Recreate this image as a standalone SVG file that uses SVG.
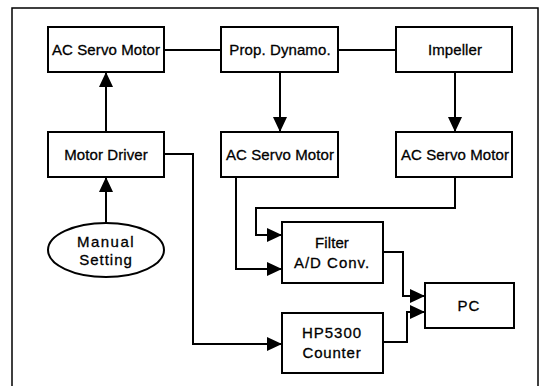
<svg xmlns="http://www.w3.org/2000/svg" width="541" height="386" viewBox="0 0 541 386">
<defs>
<style>
.box{fill:#fff;stroke:#000;stroke-width:2}
.ln{fill:none;stroke:#000;stroke-width:2}
.t{font-family:"Liberation Sans",Arial,sans-serif;font-size:15px;fill:#000;stroke:#000;stroke-width:0.3;text-anchor:middle;letter-spacing:0.1px}
</style>
<marker id="ah" markerWidth="16" markerHeight="16" refX="15" refY="8" orient="auto" markerUnits="userSpaceOnUse">
<path d="M0,1 L15,8 L0,15 Z" fill="#000"/>
</marker>
</defs>
<rect x="0" y="0" width="541" height="386" fill="#fff"/>
<rect x="12" y="8" width="526" height="390" fill="none" stroke="#000" stroke-width="1.5"/>

<g id="connectors">
<path class="ln" d="M164,50 H221"/>
<path class="ln" d="M338,50 H396"/>
<path class="ln" d="M106,132 V72" marker-end="url(#ah)"/>
<path class="ln" d="M106,223 V177" marker-end="url(#ah)"/>
<path class="ln" d="M280,72 V132" marker-end="url(#ah)"/>
<path class="ln" d="M455,72 V132" marker-end="url(#ah)"/>
<path class="ln" d="M164,154 H193 V344 H282" marker-end="url(#ah)"/>
<path class="ln" d="M236,177 V269 H282" marker-end="url(#ah)"/>
<path class="ln" d="M455,177 V208 H256 V235 H282" marker-end="url(#ah)"/>
<path class="ln" d="M383,252 H403 V296 H425" marker-end="url(#ah)"/>
<path class="ln" d="M383,342 H407 V312 H425" marker-end="url(#ah)"/>
</g>

<g id="servo1"><rect class="box" x="48" y="27" width="116" height="45"/><text class="t" x="106" y="55">AC Servo Motor</text></g>
<g id="dynamo"><rect class="box" x="221" y="27" width="117" height="45"/><text class="t" x="280" y="55">Prop. Dynamo.</text></g>
<g id="impeller"><rect class="box" x="396" y="27" width="116" height="45"/><text class="t" x="455" y="55">Impeller</text></g>
<g id="driver"><rect class="box" x="48" y="132" width="116" height="45"/><text class="t" x="106" y="160">Motor Driver</text></g>
<g id="servo2"><rect class="box" x="221" y="132" width="117" height="45"/><text class="t" x="280" y="160">AC Servo Motor</text></g>
<g id="servo3"><rect class="box" x="396" y="132" width="116" height="45"/><text class="t" x="455" y="160">AC Servo Motor</text></g>
<g id="manual"><ellipse class="box" cx="106" cy="250" rx="58" ry="27"/><text class="t" x="106" y="247" style="letter-spacing:1.5px">Manual</text><text class="t" x="106" y="265" style="letter-spacing:1px">Setting</text></g>
<g id="filter"><rect class="box" x="282" y="222" width="101" height="61"/><text class="t" x="332" y="248">Filter</text><text class="t" x="332" y="268" style="letter-spacing:1px">A/D Conv.</text></g>
<g id="hp5300"><rect class="box" x="282" y="313" width="101" height="60"/><text class="t" x="332" y="338" style="letter-spacing:1px">HP5300</text><text class="t" x="332" y="358" style="letter-spacing:0.8px">Counter</text></g>
<g id="pc"><rect class="box" x="425" y="283" width="89" height="45"/><text class="t" x="469" y="311" style="letter-spacing:1px">PC</text></g>
</svg>
